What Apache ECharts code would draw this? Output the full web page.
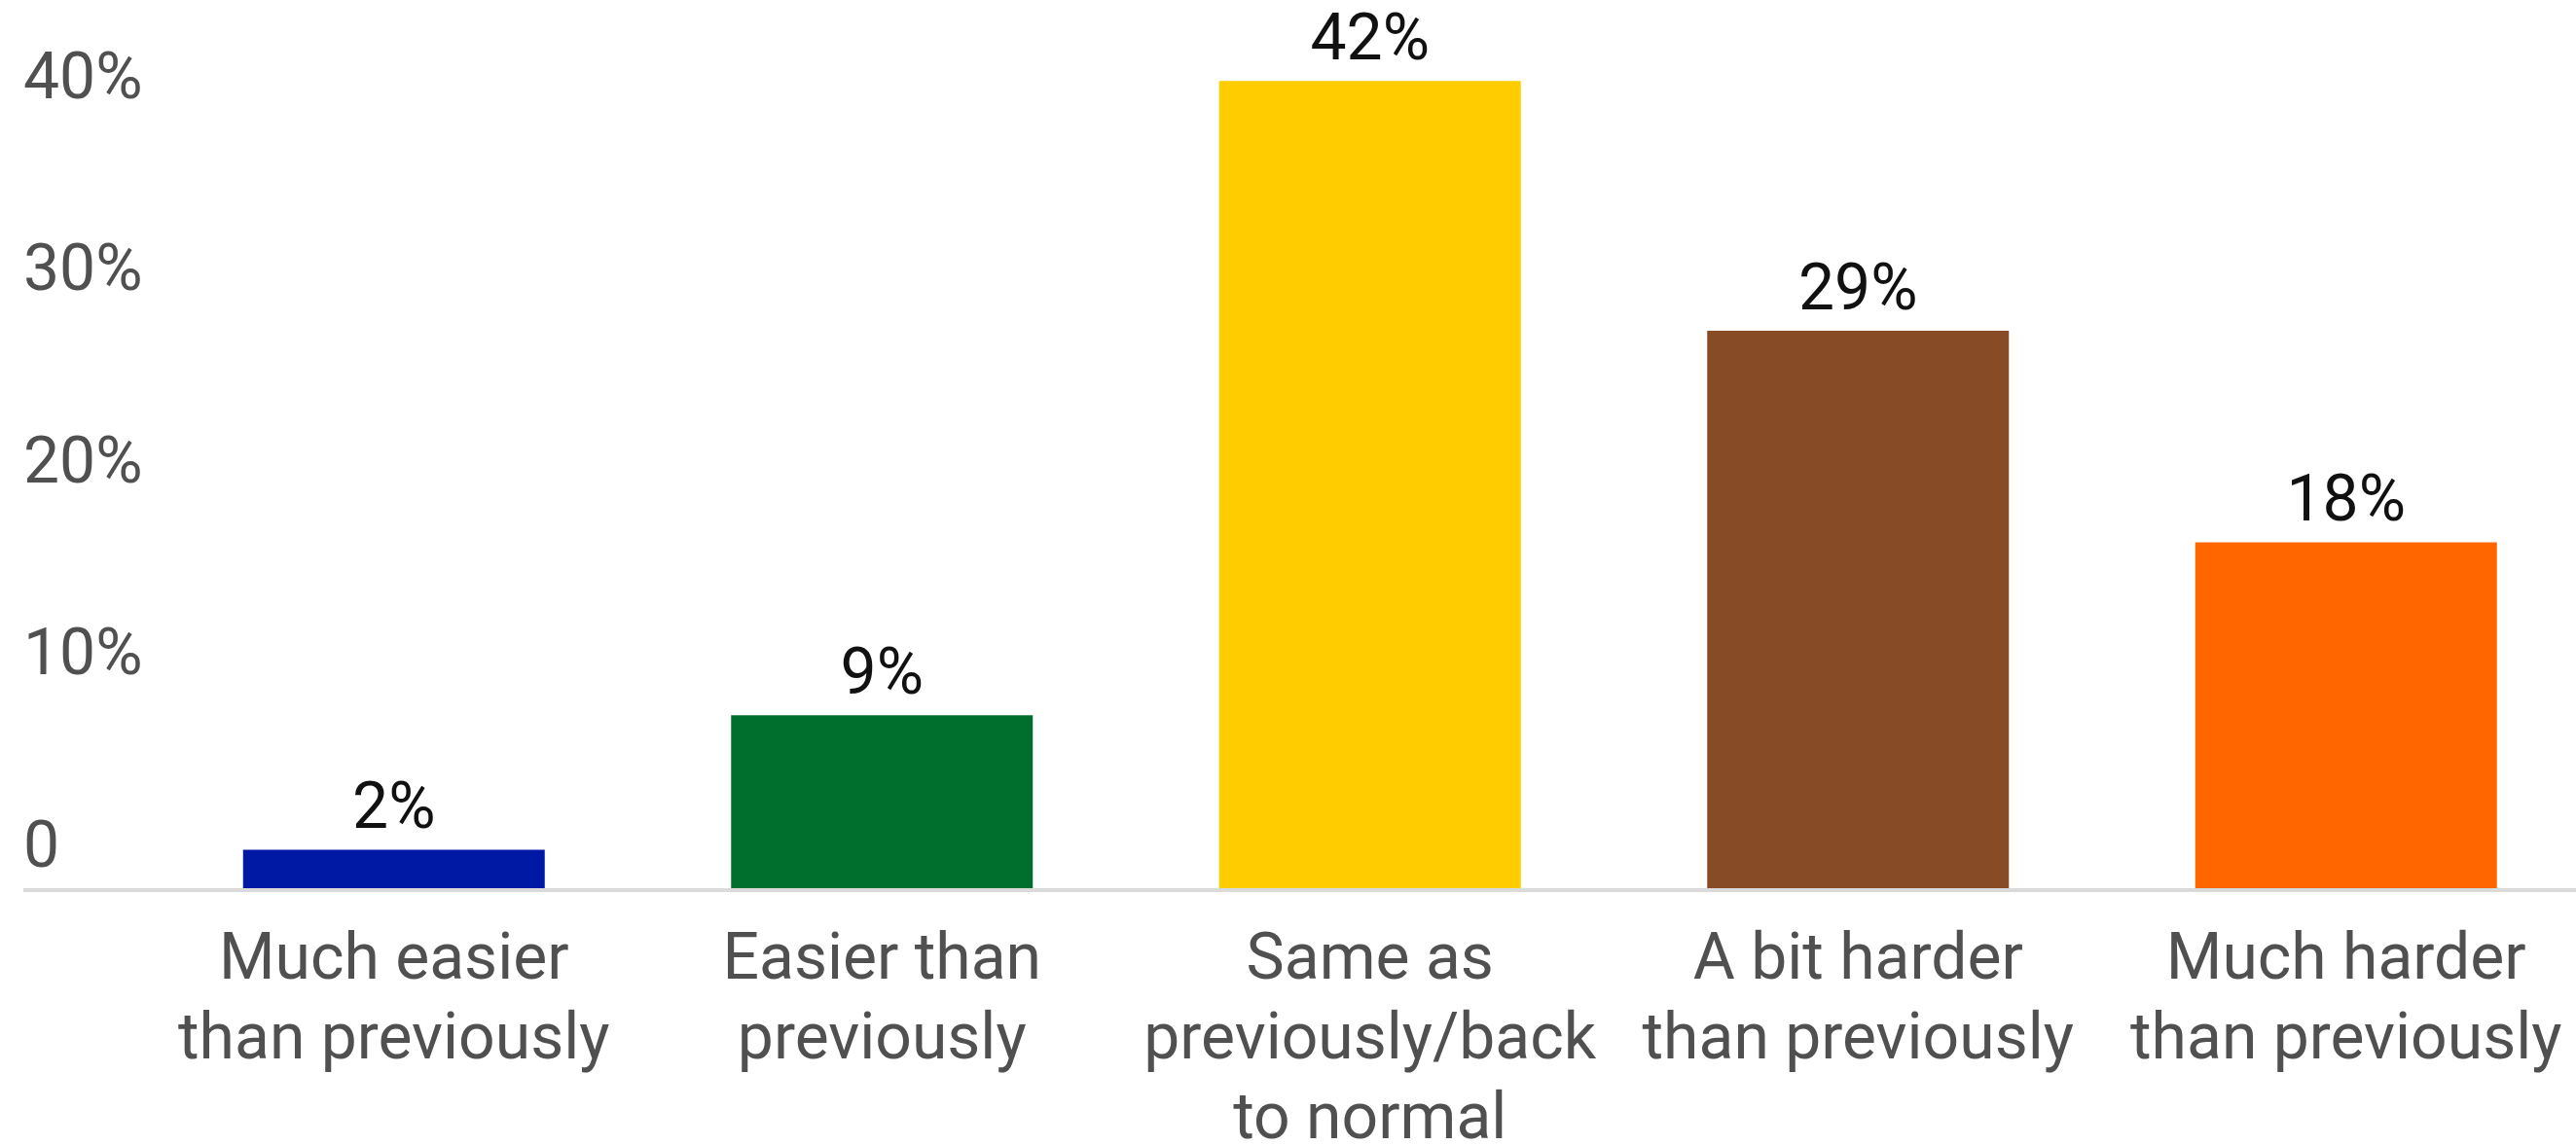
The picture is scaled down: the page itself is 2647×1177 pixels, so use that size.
<!DOCTYPE html>
<html>
<head>
<meta charset="utf-8">
<style>
html,body{margin:0;padding:0;background:#fff;overflow:hidden;}
#chart{width:2647px;height:1177px;}
</style>
<script src="https://cdn.jsdelivr.net/npm/echarts@6/dist/echarts.min.js"></script>
</head>
<body>
<div id="chart"></div>
<script>
const categories = [
  "Much easier\nthan previously",
  "Easier than\npreviously",
  "Same as\npreviously/back\nto normal",
  "A bit harder\nthan previously",
  "Much harder\nthan previously"
];
const values = [2, 9, 42, 29, 18];
const barColors = ["#0019a5", "#006e2c", "#ffcc00", "#874b25", "#ff6600"];
const yTicks = [0, 10, 20, 30, 40];

const chart = echarts.init(document.getElementById('chart'), null, {renderer: 'canvas'});
const FONT = 'Roboto';
const option = {
  animation: false,
  backgroundColor: '#ffffff',
  grid: {left: 154, top: 24, width: 2507.5, height: 889, containLabel: false, outerBoundsMode: 'none'},
  xAxis: {
    type: 'category',
    data: categories,
    axisLine: {show: false},
    axisTick: {show: false},
    axisLabel: {
      interval: 0,
      margin: 35,
      fontFamily: FONT,
      fontSize: 66,
      lineHeight: 82,
      color: '#505050',
      align: 'center'
    }
  },
  yAxis: {
    type: 'value',
    min: 0,
    max: 45,
    interval: 10,
    splitLine: {show: false},
    axisLine: {show: false},
    axisTick: {show: false},
    axisLabel: {
      margin: 130,
      align: 'left',
      verticalAlign: 'bottom',
      lineHeight: 77,
      fontFamily: FONT,
      fontSize: 66,
      color: '#505050',
      formatter: function (v) {
        if (yTicks.indexOf(v) < 0) return '';
        return v === 0 ? '0' : v + '%';
      }
    }
  },
  series: [{
    type: 'bar',
    barWidth: 310,
    data: values.map((v, i) => ({value: v, itemStyle: {color: barColors[i]}})),
    label: {
      show: true,
      position: 'top',
      distance: 6,
      fontFamily: FONT,
      fontSize: 66,
      color: '#111111',
      formatter: p => p.value + '%'
    }
  }]
};
chart.setOption(option);
const y0 = chart.convertToPixel({yAxisIndex: 0}, 0);
chart.setOption({
  graphic: [{
    type: 'line',
    shape: {x1: 24, y1: y0 + 2, x2: 2647, y2: y0 + 2},
    style: {stroke: '#dadada', lineWidth: 4},
    z: 1
  }]
});
</script>
</body>
</html>
